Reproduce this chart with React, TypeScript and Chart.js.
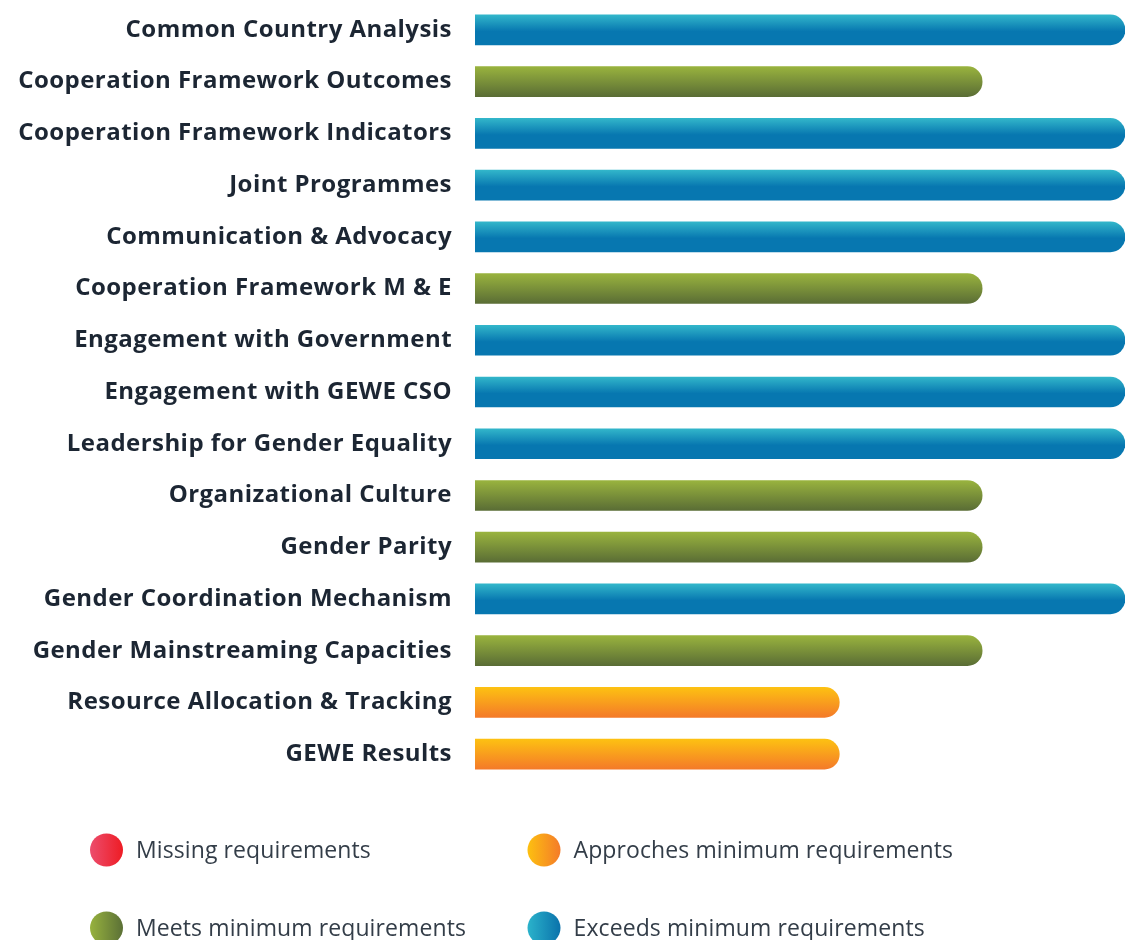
import React, { useEffect, useRef } from "react";
import { Chart, registerables } from "chart.js";

Chart.register(...registerables);

const categories = [
  "Common Country Analysis",
  "Cooperation Framework Outcomes",
  "Cooperation Framework Indicators",
  "Joint Programmes",
  "Communication & Advocacy",
  "Cooperation Framework M & E",
  "Engagement with Government",
  "Engagement with GEWE CSO",
  "Leadership for Gender Equality",
  "Organizational Culture",
  "Gender Parity",
  "Gender Coordination Mechanism",
  "Gender Mainstreaming Capacities",
  "Resource Allocation & Tracking",
  "GEWE Results",
];

// 1 = Missing, 2 = Approaches, 3 = Meets, 4 = Exceeds
const scores = [4, 3, 4, 4, 4, 3, 4, 4, 4, 3, 3, 4, 3, 2, 2];

const levelLabels = [
  "Missing requirements",
  "Approches minimum requirements",
  "Meets minimum requirements",
  "Exceeds minimum requirements",
];
const levelScores = [1, 2, 3, 4];

const AXIS_MIN = -0.55;
const AXIS_MAX = 4;

const barColors: Record<number, [string, string]> = {
  1: ["#ee4a6a", "#e91c2a"],
  2: ["#fdc112", "#f47a29"],
  3: ["#99b33e", "#5a6d35"],
  4: ["#32b6ca", "#0777b0"],
};
const dotColors: Record<number, [string, string]> = {
  1: ["#ec4d6d", "#ee1c24"],
  2: ["#fdc010", "#f47b29"],
  3: ["#97b23e", "#5b7036"],
  4: ["#2bb3cb", "#0a72ab"],
};

const TEXT_COLOR = "#1c2633";
const LEGEND_COLOR = "#333d48";
const FONT = "'Open Sans', sans-serif";

const spacingPlugin = {
  id: "letterSpacing",
  beforeDraw(chart: any) {
    (chart.ctx as any).letterSpacing = "0.45px";
  },
};

const legendPlugin = {
  id: "levelLegend",
  afterDraw(chart: any) {
    const ctx = chart.ctx as CanvasRenderingContext2D;
    const cols = [106.5, 544];
    const rows = [850, 928];
    ctx.save();
    (ctx as any).letterSpacing = "0.1px";
    levelLabels.forEach((label, i) => {
      const cx = cols[i % 2];
      const cy = rows[Math.floor(i / 2)];
      const r = 16.5;
      const [c1, c2] = dotColors[levelScores[i]];
      const g = ctx.createLinearGradient(cx - r, 0, cx + r, 0);
      g.addColorStop(0, c1);
      g.addColorStop(1, c2);
      ctx.beginPath();
      ctx.arc(cx, cy, r, 0, Math.PI * 2);
      ctx.fillStyle = g;
      ctx.fill();
      ctx.fillStyle = LEGEND_COLOR;
      ctx.font = `400 23px ${FONT}`;
      ctx.textAlign = "left";
      ctx.textBaseline = "middle";
      ctx.fillText(label, cx + 29.5, cy + 1);
    });
    ctx.restore();
  },
};

export default function App() {
  const ref = useRef<HTMLCanvasElement | null>(null);

  useEffect(() => {
    if (!ref.current) return;
    const chart = new Chart(ref.current, {
      type: "bar",
      data: {
        labels: categories,
        datasets: [
          {
            data: scores,
            base: AXIS_MIN,
            barThickness: 30,
            borderRadius: 15,
            borderSkipped: "start",
            backgroundColor: (c: any) => {
              const ch = c.chart;
              const y = ch.scales?.y;
              const v = scores[c.dataIndex] ?? 4;
              const [top, bottom] = barColors[v] || barColors[4];
              if (!y || c.type !== "data") return top;
              const cy = y.getPixelForValue(c.dataIndex);
              if (!Number.isFinite(cy)) return top;
              const g = ch.ctx.createLinearGradient(0, cy - 15, 0, cy + 15);
              g.addColorStop(0, top);
              g.addColorStop(v === 4 ? 0.55 : 1, bottom);
              g.addColorStop(1, bottom);
              return g;
            },
          } as any,
        ],
      },
      options: {
        indexAxis: "y",
        responsive: false,
        animation: false,
        layout: { padding: { top: 4, bottom: 160, left: 0, right: 0 } },
        plugins: {
          legend: { display: false },
          tooltip: { enabled: false },
        },
        scales: {
          x: {
            display: false,
            min: AXIS_MIN,
            max: AXIS_MAX,
          },
          y: {
            grid: { display: false, drawTicks: false },
            border: { display: false },
            afterFit: (s: any) => {
              s.width = 475;
              s.paddingTop = 0;
              s.paddingBottom = 0;
            },
            ticks: {
              padding: 23,
              color: TEXT_COLOR,
              font: { family: FONT, size: 24, weight: 700 as any },
            },
          },
        },
      },
      plugins: [spacingPlugin, legendPlugin],
    });
    chart.update();
    return () => chart.destroy();
  }, []);

  return (
    <div style={{ position: "absolute", left: 0, top: 0, width: 1125, height: 940, background: "#fff" }}>
      <canvas ref={ref} width={1125} height={940} />
    </div>
  );
}
